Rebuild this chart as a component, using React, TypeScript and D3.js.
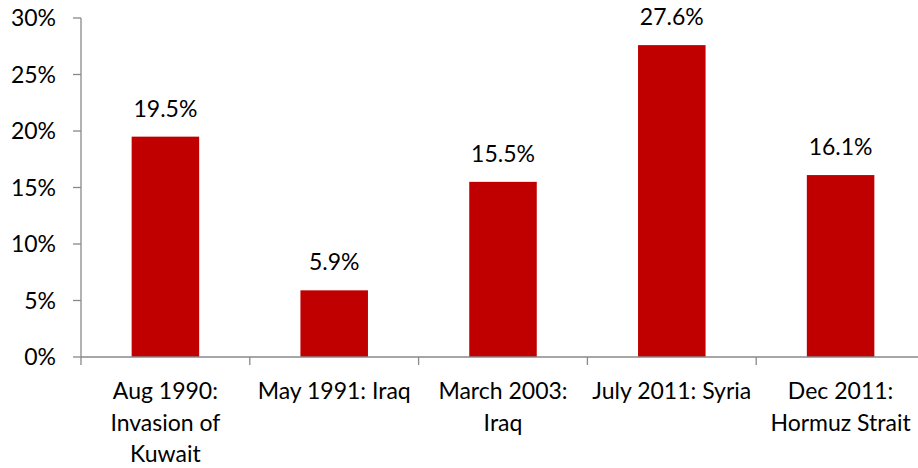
import React from "react";
import * as d3 from "d3";

const categories: string[][] = [
  ["Aug 1990:", "Invasion of", "Kuwait"],
  ["May 1991: Iraq"],
  ["March 2003:", "Iraq"],
  ["July 2011: Syria"],
  ["Dec 2011:", "Hormuz Strait"],
];
const values: number[] = [19.5, 5.9, 15.5, 27.6, 16.1];
const yTicks: number[] = [0, 5, 10, 15, 20, 25, 30];

const W = 918;
const H = 468;
const FONT = "Lato, 'Open Sans', sans-serif";
const FS = 23;

export default function App() {
  const left = 81;
  const right = 925;
  const top = 18;
  const bottom = 357;
  const ids = categories.map((_, i) => String(i));
  const x = d3.scaleBand<string>().domain(ids).range([left, right]).paddingInner(0.6).paddingOuter(0.3);
  const y = d3.scaleLinear().domain([0, 30]).range([bottom, top]);
  const step = x.step();
  const axisColor = "#898989";
  const boundaries = ids.map((id) => (x(id) as number) - step * 0.3).concat([right]);
  return (
    <div style={{ position: "absolute", left: 0, top: 0 }}>
      <svg width={W} height={H} style={{ display: "block", background: "#fff" }}>
        {ids.map((id, i) => (
          <rect key={id} x={x(id)} y={y(values[i])} width={x.bandwidth()} height={y(0) - y(values[i])} fill="#C00000" />
        ))}
        <line x1={left} x2={left} y1={top} y2={bottom} stroke={axisColor} strokeWidth={1.3} />
        <line x1={left} x2={right} y1={bottom} y2={bottom} stroke={axisColor} strokeWidth={1.3} />
        {yTicks.map((t) => (
          <g key={t}>
            <line x1={left - 8} x2={left} y1={y(t)} y2={y(t)} stroke={axisColor} strokeWidth={1.3} />
            <text x={56} y={y(t)} dy="0.36em" textAnchor="end" fontFamily={FONT} fontSize={FS} fill="#000">
              {t}%
            </text>
          </g>
        ))}
        {boundaries.map((b, i) => (
          <line key={i} x1={b} x2={b} y1={bottom} y2={bottom + 8} stroke={axisColor} strokeWidth={1.3} />
        ))}
        {ids.map((id, i) => (
          <text key={id} x={(x(id) as number) + x.bandwidth() / 2} y={y(values[i]) - 20} textAnchor="middle" fontFamily={FONT} fontSize={FS} fill="#000">
            {values[i].toFixed(1)}%
          </text>
        ))}
        {ids.map((id, i) => (
          <text key={id} textAnchor="middle" fontFamily={FONT} fontSize={FS} fill="#000">
            {categories[i].map((line, j) => (
              <tspan key={j} x={(x(id) as number) + x.bandwidth() / 2} y={399 + j * 31.5}>
                {line}
              </tspan>
            ))}
          </text>
        ))}
      </svg>
    </div>
  );
}
